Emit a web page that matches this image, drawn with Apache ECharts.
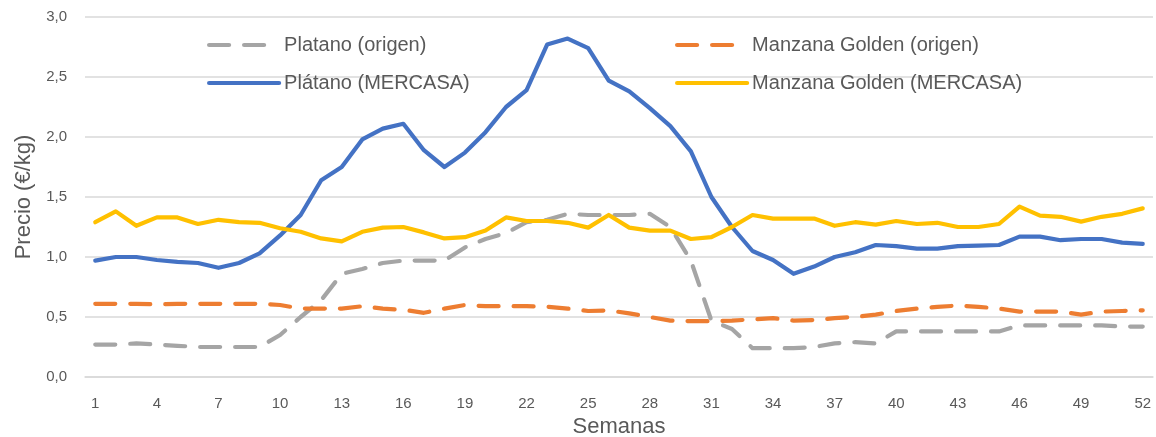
<!DOCTYPE html>
<html>
<head>
<meta charset="utf-8">
<title>Precios plátano y manzana</title>
<script src="https://cdn.jsdelivr.net/npm/echarts@6/dist/echarts.min.js"></script>
<style>
  html, body { margin: 0; padding: 0; background: #fff; }
  #chart { width: 1156px; height: 437px; }
</style>
</head>
<body>
<div id="chart"></div>
<script>
// semanas 1..52
const semanas = ['1','2','3','4','5','6','7','8','9','10','11','12','13','14','15','16','17','18','19','20',
  '21','22','23','24','25','26','27','28','29','30','31','32','33','34','35','36','37','38','39','40',
  '41','42','43','44','45','46','47','48','49','50','51','52'];

const platanoOrigen = [0.27, 0.27, 0.28, 0.27, 0.26, 0.25, 0.25, 0.25, 0.25, 0.35,
  0.50, 0.64, 0.86, 0.90, 0.95, 0.97, 0.97, 0.97, 1.08, 1.15,
  1.20, 1.29, 1.31, 1.36, 1.35, 1.35, 1.35, 1.36, 1.25, 0.97,
  0.47, 0.40, 0.24, 0.24, 0.24, 0.25, 0.28, 0.29, 0.28, 0.38,
  0.38, 0.38, 0.38, 0.38, 0.38, 0.43, 0.43, 0.43, 0.43, 0.43,
  0.42, 0.42];

const manzanaOrigen = [0.61, 0.61, 0.61, 0.605, 0.61, 0.61, 0.61, 0.61, 0.61, 0.60,
  0.57, 0.57, 0.57, 0.59, 0.57, 0.56, 0.535, 0.57, 0.60, 0.59,
  0.59, 0.59, 0.585, 0.57, 0.55, 0.555, 0.53, 0.50, 0.47, 0.465,
  0.465, 0.47, 0.48, 0.49, 0.47, 0.475, 0.49, 0.50, 0.52, 0.55,
  0.57, 0.585, 0.595, 0.585, 0.57, 0.545, 0.545, 0.545, 0.52, 0.545,
  0.55, 0.555];

const platanoMercasa = [0.97, 1.00, 1.00, 0.975, 0.96, 0.95, 0.91, 0.95, 1.03, 1.18,
  1.35, 1.64, 1.75, 1.98, 2.07, 2.11, 1.89, 1.75, 1.87, 2.04,
  2.25, 2.39, 2.77, 2.82, 2.74, 2.47, 2.38, 2.24, 2.09, 1.88,
  1.50, 1.25, 1.05, 0.975, 0.86, 0.92, 1.00, 1.04, 1.10, 1.09,
  1.07, 1.07, 1.09, 1.095, 1.10, 1.17, 1.17, 1.14, 1.15, 1.15,
  1.12, 1.11];

const manzanaMercasa = [1.29, 1.38, 1.26, 1.33, 1.33, 1.275, 1.31, 1.29, 1.285, 1.24,
  1.21, 1.155, 1.13, 1.21, 1.245, 1.25, 1.205, 1.155, 1.165, 1.22,
  1.33, 1.30, 1.30, 1.285, 1.245, 1.35, 1.245, 1.22, 1.22, 1.15,
  1.165, 1.25, 1.35, 1.32, 1.32, 1.32, 1.26, 1.29, 1.27, 1.30,
  1.275, 1.285, 1.25, 1.25, 1.275, 1.42, 1.345, 1.335, 1.295, 1.335,
  1.36, 1.405];

const nombres = ['Platano (origen)', 'Manzana Golden (origen)', 'Plátano (MERCASA)', 'Manzana Golden (MERCASA)'];
const colores = ['#a5a5a5', '#ed7d31', '#4472c4', '#ffc000'];

const fuente = '"Liberation Sans", Arial, sans-serif';
const gris = '#595959';

function serie (i, data, dashed) {
  return {
    name: nombres[i],
    type: 'line',
    data: data,
    symbol: 'none',
    smooth: false,
    lineStyle: {
      color: colores[i],
      width: 4.2,
      type: dashed ? [20, 15] : 'solid',
      cap: 'round',
      join: 'round'
    },
    itemStyle: { color: colores[i] }
  }
}

const leyendaBase = {
  orient: 'vertical',
  top: 30,
  itemWidth: 70,
  itemHeight: 19,
  itemGap: 18,
  itemStyle: { opacity: 0 },
  lineStyle: { width: 4.2 },
  textStyle: { fontFamily: fuente, fontSize: 20, color: gris }
};

const option = {
  animation: false,
  backgroundColor: '#fff',
  legend: [
    Object.assign({}, leyendaBase, { left: 202, data: [nombres[0], nombres[2]] }),
    Object.assign({}, leyendaBase, { left: 670, data: [nombres[1], nombres[3]] })
  ],
  grid: { left: 85, right: 3, top: 17, bottom: 60, outerBoundsMode: 'none', containLabel: false },
  xAxis: {
    type: 'category',
    data: semanas,
    boundaryGap: true,
    name: 'Semanas',
    nameLocation: 'middle',
    nameGap: 38,
    nameTextStyle: { fontFamily: fuente, fontSize: 22, color: gris },
    axisLine: { lineStyle: { color: '#d9d9d9', width: 1.5 } },
    axisTick: { show: false },
    axisLabel: { interval: 2, margin: 19, fontFamily: fuente, fontSize: 15, color: gris }
  },
  yAxis: {
    type: 'value',
    min: 0,
    max: 3,
    interval: 0.5,
    name: 'Precio (€/kg)',
    nameLocation: 'middle',
    nameGap: 50,
    nameTextStyle: { fontFamily: fuente, fontSize: 22, color: gris },
    axisLine: { show: false },
    axisTick: { show: false },
    axisLabel: {
      margin: 18,
      fontFamily: fuente,
      fontSize: 15,
      color: gris,
      formatter: v => v.toFixed(1).replace('.', ',')
    },
    splitLine: { lineStyle: { color: '#d9d9d9', width: 1.5 } }
  },
  series: [
    serie(0, platanoOrigen, true),
    serie(1, manzanaOrigen, true),
    serie(2, platanoMercasa, false),
    serie(3, manzanaMercasa, false)
  ]
};

const chart = echarts.init(document.getElementById('chart'));
chart.setOption(option);
</script>
</body>
</html>
